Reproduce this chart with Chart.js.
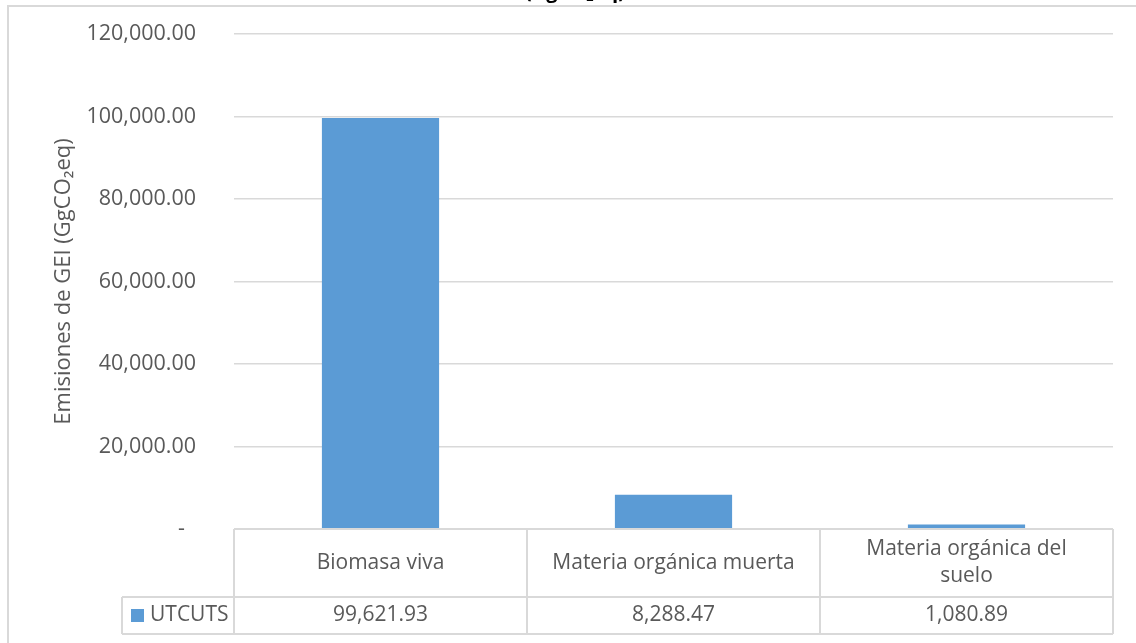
<!DOCTYPE html>
<html><head><meta charset="utf-8">
<script src="https://cdn.jsdelivr.net/npm/chart.js@4.4.1/dist/chart.umd.min.js"></script>
<style>html,body{margin:0;padding:0;background:#fff}canvas{display:block}</style>
</head><body>
<canvas id="c" width="1136" height="643"></canvas>
<script>
const categories = ['Biomasa viva', 'Materia orgánica muerta', ['Materia orgánica del', 'suelo']];
const seriesName = 'UTCUTS';
const values = [99621.93, 8288.47, 1080.89];
const yTicks = [0, 20000, 40000, 60000, 80000, 100000, 120000];
const yTitle = 'Emisiones de GEI (GgCO₂eq)';
const topTitle = '(GgCO₂eq)';

const BAR = '#5B9BD5', GRID = '#d9d9d9', TXT = '#595959';
const FONT = '"Open Sans", sans-serif';
const fmt = v => v === 0 ? '-  ' : v.toLocaleString('en-US', {minimumFractionDigits: 2, maximumFractionDigits: 2});

function line(ctx, x1, y1, x2, y2) { ctx.beginPath(); ctx.moveTo(x1, y1); ctx.lineTo(x2, y2); ctx.stroke(); }

const framePlugin = {
  id: 'frame',
  beforeDraw(chart) {
    const ctx = chart.ctx;
    ctx.save();
    ctx.fillStyle = '#fff'; ctx.fillRect(0, 0, chart.width, chart.height);
    ctx.strokeStyle = GRID; ctx.lineWidth = 2;
    ctx.strokeRect(8, 6, chart.width + 20, chart.height + 20);
    ctx.fillStyle = '#000'; ctx.font = 'bold 20px ' + FONT;
    ctx.textAlign = 'center'; ctx.textBaseline = 'alphabetic';
    ctx.fillText(topTitle, 575, -2);
    ctx.restore();
  }
};

const tablePlugin = {
  id: 'table',
  afterDraw(chart) {
    const ctx = chart.ctx, x = chart.scales.x, area = chart.chartArea;
    const n = categories.length, colW = (x.right - x.left) / n;
    const top = area.bottom, mid = top + 68, bot = mid + 37, legL = 122;
    ctx.save();
    ctx.strokeStyle = GRID; ctx.lineWidth = 2;
    line(ctx, x.left, top, x.right, top);
    line(ctx, legL, mid, x.right, mid);
    line(ctx, legL, bot, x.right, bot);
    line(ctx, legL, mid, legL, bot);
    for (let i = 0; i <= n; i++) line(ctx, x.left + i * colW, top, x.left + i * colW, bot);
    ctx.fillStyle = TXT; ctx.font = '21px ' + FONT;
    ctx.textAlign = 'center'; ctx.textBaseline = 'middle';
    categories.forEach((c, i) => {
      const cx = x.getPixelForValue(i);
      const ls = Array.isArray(c) ? c : [c];
      const lh = 27, y0 = (top + mid) / 2 - (ls.length - 1) * lh / 2;
      ls.forEach((t, j) => ctx.fillText(t, cx, y0 + j * lh));
    });
    values.forEach((v, i) => ctx.fillText(fmt(v), x.getPixelForValue(i), (mid + bot) / 2));
    ctx.fillStyle = BAR; ctx.fillRect(131, 609, 13, 13);
    ctx.fillStyle = TXT; ctx.textAlign = 'left';
    ctx.fillText(seriesName, 150, (mid + bot) / 2);
    ctx.restore();
  }
};

new Chart(document.getElementById('c'), {
  type: 'bar',
  data: { labels: categories, datasets: [{ label: seriesName, data: values, backgroundColor: BAR, categoryPercentage: 0.8, barPercentage: 0.5 }] },
  options: {
    responsive: false, animation: false,
    layout: { padding: { left: 0, right: 23, top: 34, bottom: 114 } },
    plugins: { legend: { display: false }, tooltip: { enabled: false }, title: { display: false } },
    scales: {
      x: { display: false },
      y: {
        min: 0, max: 120000,
        afterBuildTicks: s => { s.ticks = yTicks.map(v => ({ value: v })); },
        afterFit: s => { s.width = 234; s.paddingTop = 0; s.paddingBottom = 0; },
        border: { display: false },
        grid: { color: GRID, lineWidth: 1.5, drawTicks: false },
        ticks: { padding: 38, color: TXT, font: { family: FONT, size: 21.5 }, callback: v => fmt(v) },
        title: { display: true, text: yTitle, color: TXT, font: { family: FONT, size: 22 }, padding: { top: 51, bottom: 0 } }
      }
    }
  },
  plugins: [framePlugin, tablePlugin]
});
</script>
</body></html>
